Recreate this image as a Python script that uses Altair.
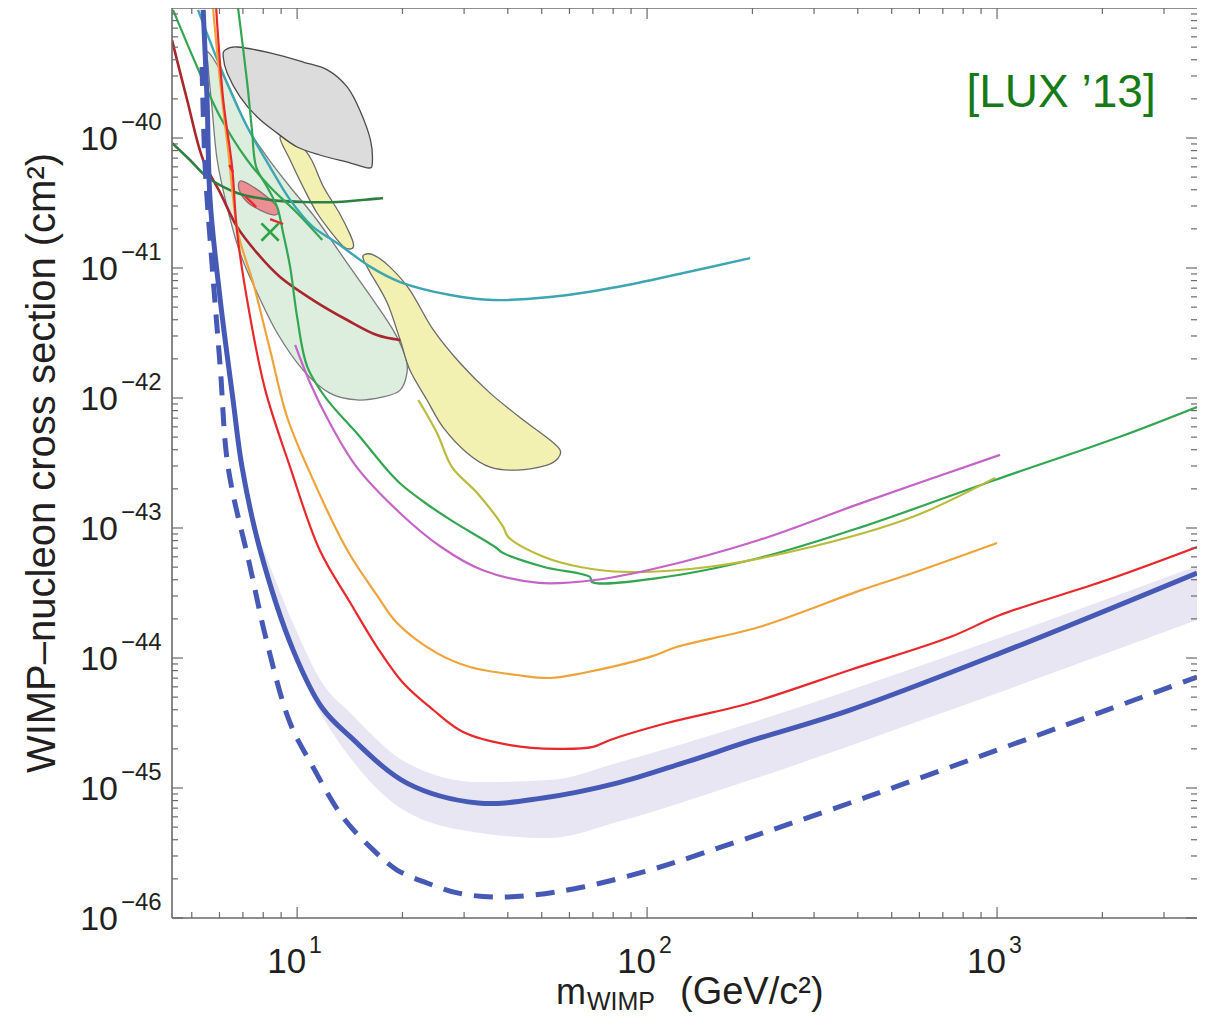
import altair as alt
import pandas as pd

# ---------------- data (mass in GeV/c^2, cross section in cm^2) ----------------
LUX_M = [5.39, 5.53, 5.64, 6.03, 6.56, 6.96, 7.84, 9.74, 11.8, 14.2, 20.6, 32.9, 50.4, 82.0, 127, 197, 380, 1020, 3727]
LUX_S = [9.66e-40, 1.96e-40, 3.34e-41, 5.67e-42, 9.66e-43, 2.94e-43, 6.77e-44, 1.15e-44, 4.12e-45, 2.47e-45,
         1.09e-45, 7.67e-46, 8.38e-46, 1.09e-45, 1.56e-45, 2.3e-45, 3.98e-45, 1.09e-44, 4.51e-44]

BAND_M = [7.94, 9.87, 11.8, 14.2, 20.6, 33.3, 52.8, 82.0, 197, 735, 3727]
BAND_HI = [7.4e-44, 1.70e-44, 6.42e-45, 3.78e-45, 1.56e-45, 1.11e-45, 1.15e-45, 1.56e-45, 3.16e-45, 1.05e-44, 5.1e-44]
BAND_LO = [5.67e-44, 9.66e-45, 3.58e-45, 1.70e-45, 6.53e-46, 4.51e-46, 4.12e-46, 5.47e-46, 1.15e-45, 3.98e-45, 1.96e-44]

SENS_M = [5.35, 5.46, 5.72, 6.03, 6.35, 7.34, 8.21, 9.55, 11.1, 13.5, 16.5, 19.3, 23.5, 28.7, 36.3, 47.2, 65.6,
          102, 154, 425, 1268, 3727]
SENS_S = [3.52e-40, 5.98e-41, 1.02e-41, 1.73e-42, 2.94e-43, 5.01e-44, 1.30e-44, 3.16e-45, 1.45e-45, 5.98e-46,
          3.34e-46, 2.34e-46, 1.86e-46, 1.56e-46, 1.45e-46, 1.5e-46, 1.73e-46, 2.34e-46, 3.34e-46, 8.53e-46,
          2.47e-45, 7.14e-45]

RED_M = [5.87, 6.15, 6.52, 6.74, 7.34, 8.11, 9.55, 11.6, 14.2, 16.9, 20.1, 24.5, 29.8, 40.6, 55.3, 70.1, 78.4,
         114, 197, 380, 735, 1020, 2061, 3727]
RED_S = [1e-39, 1.96e-40, 5.98e-41, 1.86e-41, 4.2e-42, 1.15e-42, 2.94e-43, 6.77e-44, 2.65e-44, 1.22e-44, 6.42e-45,
         3.98e-45, 2.7e-45, 2.14e-45, 2.0e-45, 2.07e-45, 2.34e-45, 3.16e-45, 4.51e-45, 8.09e-45, 1.45e-44,
         2.14e-44, 3.98e-44, 7.14e-44]

ORA_M = [5.75, 6.03, 6.35, 6.78, 7.49, 8.37, 9.36, 10.7, 13.9, 16.9, 19.3, 25.1, 31.2, 42.5, 52.8, 65.6, 102,
         122, 209, 411, 575, 1000]
ORA_S = [1e-39, 2.65e-40, 8.09e-41, 1.86e-41, 7.67e-42, 2.34e-42, 7.14e-43, 2.94e-43, 6.77e-44, 3.05e-44,
         1.86e-44, 1.09e-44, 8.53e-45, 7.4e-45, 7.02e-45, 7.67e-45, 1.02e-44, 1.22e-44, 1.73e-44, 3.34e-44,
         4.51e-44, 7.67e-44]

PUR_M = [9.87, 10.9, 12.4, 14.8, 19.7, 25.8, 33.8, 49.1, 71.0, 107, 209, 411, 1020]
PUR_S = [2.56e-42, 1.30e-42, 6.42e-43, 2.94e-43, 1.30e-43, 7.14e-44, 4.75e-44, 3.78e-44, 3.98e-44, 4.92e-44,
         8.09e-44, 1.56e-43, 3.65e-43]

OLV_M = [22.2, 25.1, 27.7, 32.7, 38.8, 40.1, 50.8, 64.4, 87.1, 149, 294, 575, 986]
OLV_S = [9.66e-43, 5.38e-43, 2.94e-43, 1.86e-43, 1.02e-43, 8.53e-44, 5.98e-44, 5.01e-44, 4.59e-44, 5.01e-44,
         7.14e-44, 1.22e-43, 2.43e-43]

GRN_M = [6.78, 7.20, 7.43, 7.64, 8.21, 8.77, 9.12, 9.55, 10.0, 10.7, 12.2, 14.8, 18.1, 19.7, 23.3, 27.5, 36.8,
         38.8, 50.8, 68.7, 69.6, 107, 209, 411, 986, 2233, 3727]
GRN_S = [1e-39, 2.65e-40, 1.15e-40, 5.98e-41, 4.2e-41, 2.94e-41, 1.86e-41, 1.02e-41, 4.2e-42, 1.73e-42, 9.66e-43,
         5.38e-43, 2.79e-43, 2.2e-43, 1.55e-43, 1.15e-43, 7.14e-44, 6.42e-44, 5.01e-44, 4.2e-44, 3.84e-44,
         4.12e-44, 5.88e-44, 1.02e-43, 2.34e-43, 5.01e-43, 8.53e-43]

GSH_M = [4.42, 5.18, 6.03, 7.20, 8.37, 10.0, 11.8]
GSH_S = [9.66e-40, 3.52e-40, 1.45e-40, 6.77e-41, 4.2e-41, 2.65e-41, 1.64e-41]

CYA_M = [5.21, 6.03, 7.20, 8.37, 9.55, 11.1, 13.0, 16.2, 19.7, 27.4, 36.3, 52.8, 82.0, 127, 197]
CYA_S = [9.66e-40, 3.52e-40, 1.22e-40, 5.98e-41, 3.34e-41, 2.07e-41, 1.56e-41, 1.02e-41, 7.8e-42, 6.2e-42,
         5.67e-42, 5.98e-42, 7.14e-42, 9.15e-42, 1.19e-41]

DGR_M = [4.39, 4.94, 5.53, 6.74, 8.37, 10.4, 13.0, 17.6]
DGR_S = [9.15e-41, 6.77e-41, 5.01e-41, 3.78e-41, 3.34e-41, 3.22e-41, 3.22e-41, 3.45e-41]

DRD_M = [4.39, 4.85, 5.39, 6.03, 6.74, 7.69, 8.94, 11.1, 13.9, 16.9, 19.7]
DRD_S = [5.67e-40, 1.96e-40, 6.77e-41, 3.78e-41, 2.07e-41, 1.30e-41, 8.53e-42, 5.67e-42, 3.98e-42, 3.05e-42, 2.79e-42]

# closed regions
GREY_M = [6.23, 6.74, 8.37, 10.4, 12.2, 13.9, 15.1, 16.2, 16.4, 16.0, 14.2, 11.6, 10.0, 8.77, 7.69, 6.87, 6.31, 6.15]
GREY_S = [4.75e-40, 5.01e-40, 4.51e-40, 3.84e-40, 3.34e-40, 2.47e-40, 1.64e-40, 9.66e-41, 6.42e-41, 5.88e-41,
          6.42e-41, 7.4e-41, 8.53e-41, 1.09e-40, 1.45e-40, 2.07e-40, 3.16e-40, 4.2e-40]

YSM_M = [8.94, 10.2, 11.0, 11.9, 13.2, 14.2, 14.5, 14.1, 13.5, 12.7, 11.4, 10.4, 9.55]
YSM_S = [1.02e-40, 8.83e-41, 6.77e-41, 4.2e-41, 2.65e-41, 1.79e-41, 1.48e-41, 1.40e-41, 1.48e-41, 1.79e-41,
         2.65e-41, 4.2e-41, 6.77e-41]

YBG_M = [15.5, 16.5, 18.4, 21.0, 24.5, 29.2, 35.6, 44.3, 52.8, 56.4, 55.7, 51.8, 42.5, 35.6, 30.6, 26.1, 23.5,
         21.0, 19.7, 18.1, 16.2, 15.5]
YBG_S = [1.26e-41, 1.26e-41, 1.02e-41, 6.77e-42, 3.34e-42, 1.86e-42, 1.09e-42, 6.77e-43, 4.75e-43, 3.98e-43,
         3.45e-43, 3.05e-43, 2.79e-43, 2.94e-43, 3.78e-43, 5.98e-43, 9.66e-43, 1.64e-42, 2.79e-42, 5.38e-42,
         9.15e-42, 1.15e-41]

LGR_M = [5.57, 6.31, 7.20, 8.21, 9.55, 11.4, 13.9, 16.5, 18.8, 20.4, 20.6, 19.7, 17.6, 14.8, 12.4, 10.4, 8.77,
         7.69, 6.87, 6.31, 5.91, 5.72, 5.57]
LGR_S = [4.59e-40, 2.65e-40, 1.22e-40, 7.14e-41, 4.2e-41, 2.34e-41, 1.09e-41, 5.67e-42, 3.34e-42, 2.07e-42,
         1.56e-42, 1.15e-42, 1.02e-42, 9.66e-43, 1.09e-42, 1.64e-42, 3.16e-42, 6.42e-42, 1.30e-41, 2.94e-41,
         6.77e-41, 1.64e-40, 3.52e-40]

PNK_M = [6.87, 7.34, 8.21, 8.77, 8.83, 8.54, 7.84, 7.20, 6.83]
PNK_S = [4.67e-41, 4.35e-41, 3.52e-41, 2.94e-41, 2.65e-41, 2.56e-41, 2.79e-41, 3.22e-41, 3.98e-41]

RDASH_SEG = ["a", "a", "b", "b", "c", "c"]
RDASH_M = [6.40, 6.56, 7.10, 7.64, 8.37, 9.12]
RDASH_S = [6.2e-41, 5.47e-41, 3.58e-41, 2.94e-41, 2.38e-41, 2.18e-41]

XMARK_M = [8.37]
XMARK_S = [1.89e-41]

# axis ticks and labels
X_MAJOR = [10, 100, 1000]
X_EXP = ["1", "2", "3"]
X_MINOR = [5, 6, 7, 8, 9, 20, 30, 40, 50, 60, 70, 80, 90, 200, 300, 400, 500, 600, 700, 800, 900, 2000, 3000]
Y_MAJOR = [1e-46, 1e-45, 1e-44, 1e-43, 1e-42, 1e-41, 1e-40]
Y_EXP = ["\u221246", "\u221245", "\u221244", "\u221243", "\u221242", "\u221241", "\u221240"]
Y_MINOR = [k * 10.0 ** e for e in range(-46, -39) for k in range(2, 10)]

LABEL_M = [1524]
LABEL_S = [1.73e-40]
LABEL_T = ["[LUX \u201913]"]

# ---------------- chart ----------------
W, H = 1025, 910
FONT = "Liberation Sans"
TXT = "#231f20"
FR = "#6a6a6a"
XS = alt.Scale(type="log", domain=[4.39, 3727], nice=False)
YS = alt.Scale(type="log", domain=[1e-46, 1e-39], nice=False)
SMOOTH = "catmull-rom"


def enc_xy():
    return dict(x=alt.X("m:Q", scale=XS, axis=None), y=alt.Y("s:Q", scale=YS, axis=None))


def curve(ms, ss, color, width, dash=None):
    df = pd.DataFrame({"m": ms, "s": ss, "i": list(range(len(ms)))})
    kw = dict(color=color, strokeWidth=width, clip=True, interpolate=SMOOTH)
    if dash is not None:
        kw["strokeDash"] = dash
    return alt.Chart(df).mark_line(**kw).encode(order="i:Q", **enc_xy())


def region(ms, ss, fill, stroke):
    df = pd.DataFrame({"m": ms, "s": ss, "i": list(range(len(ms)))})
    return alt.Chart(df).mark_line(
        interpolate="cardinal-closed", stroke=stroke, strokeWidth=1.3, clip=True
    ).encode(order="i:Q", fill=alt.value(fill), **enc_xy())


band = alt.Chart(pd.DataFrame({"m": BAND_M, "lo": BAND_LO, "hi": BAND_HI})).mark_area(
    color="#e8e6f3", interpolate="monotone", clip=True
).encode(
    x=alt.X("m:Q", scale=XS, axis=None),
    y=alt.Y("lo:Q", scale=YS, axis=None),
    y2=alt.Y2("hi:Q"),
)

layers = [band]
layers.append(region(LGR_M, LGR_S, "#ddeedf", "#7a7a7a"))
layers.append(region(YSM_M, YSM_S, "#f3f1b2", "#6a6a6a"))
layers.append(region(GREY_M, GREY_S, "#dcdcdc", "#4a4a4a"))
layers.append(region(YBG_M, YBG_S, "#f3f1b2", "#6a6a6a"))
layers.append(region(PNK_M, PNK_S, "#ec8f92", "#8a7070"))

layers.append(curve(DRD_M, DRD_S, "#a8262c", 2.6))
layers.append(curve(DGR_M, DGR_S, "#2d8040", 2.6))
layers.append(curve(CYA_M, CYA_S, "#3ea6b3", 2.4))
layers.append(curve(GSH_M, GSH_S, "#33a651", 2.2))
layers.append(curve(GRN_M, GRN_S, "#33a651", 2.2))
layers.append(curve(OLV_M, OLV_S, "#b9bb3c", 2.2))
layers.append(curve(PUR_M, PUR_S, "#c464c6", 2.2))
layers.append(curve(ORA_M, ORA_S, "#efa33b", 2.2))
layers.append(curve(RED_M, RED_S, "#e8282b", 2.2))

rd = pd.DataFrame({"m": RDASH_M, "s": RDASH_S, "seg": RDASH_SEG})
layers.append(alt.Chart(rd).mark_line(color="#e8282b", strokeWidth=2.4, clip=True).encode(
    detail="seg:N", **enc_xy()))

xm = pd.DataFrame({"m": XMARK_M, "s": XMARK_S})
layers.append(alt.Chart(xm).mark_point(
    shape="M-1,-1L1,1M-1,1L1,-1", size=300, filled=False, color="#2ea34a", strokeWidth=2.6, opacity=1
).encode(**enc_xy()))

layers.append(curve(SENS_M, SENS_S, "#4559b5", 5, dash=[19, 12]))
layers.append(curve(LUX_M, LUX_S, "#4559b5", 5))

# frame
one = pd.DataFrame({"z": [0]})
layers.append(alt.Chart(one).mark_rule(color=FR, strokeWidth=1.6).encode(
    x=alt.value(0), y=alt.value(0), y2=alt.value(H)))
layers.append(alt.Chart(one).mark_rule(color=FR, strokeWidth=1.6).encode(
    x=alt.value(0), x2=alt.value(W), y=alt.value(0)))
layers.append(alt.Chart(one).mark_rule(color=FR, strokeWidth=1.6).encode(
    x=alt.value(0), x2=alt.value(W), y=alt.value(H)))


# ticks
def xticks(vals, length):
    df = pd.DataFrame({"v": vals})
    xe = alt.X("v:Q", scale=XS, axis=None)
    b = alt.Chart(df).mark_rule(color=FR, strokeWidth=1.2).encode(x=xe, y=alt.value(H), y2=alt.value(H - length))
    t = alt.Chart(df).mark_rule(color=FR, strokeWidth=1.2).encode(x=xe, y=alt.value(0), y2=alt.value(length))
    return [b, t]


def yticks(vals, length):
    df = pd.DataFrame({"v": vals})
    ye = alt.Y("v:Q", scale=YS, axis=None)
    l = alt.Chart(df).mark_rule(color=FR, strokeWidth=1.2).encode(y=ye, x=alt.value(0), x2=alt.value(length))
    r = alt.Chart(df).mark_rule(color=FR, strokeWidth=1.2).encode(y=ye, x=alt.value(W), x2=alt.value(W - length))
    return [l, r]


layers += xticks(X_MAJOR, 11) + xticks(X_MINOR, 6) + yticks(Y_MAJOR, 11) + yticks(Y_MINOR, 6)

# tick labels
ylab = pd.DataFrame({"v": Y_MAJOR, "e": Y_EXP, "b": ["10"] * len(Y_MAJOR)})
layers.append(alt.Chart(ylab).mark_text(
    align="right", baseline="middle", dx=-54, dy=2, fontSize=34, font=FONT, color=TXT
).encode(y=alt.Y("v:Q", scale=YS, axis=None), x=alt.value(0), text="b:N"))
layers.append(alt.Chart(ylab).mark_text(
    align="left", baseline="middle", dx=-51, dy=-15, fontSize=24, font=FONT, color=TXT
).encode(y=alt.Y("v:Q", scale=YS, axis=None), x=alt.value(0), text="e:N"))

xlab = pd.DataFrame({"v": X_MAJOR, "e": X_EXP, "b": ["10"] * len(X_MAJOR)})
layers.append(alt.Chart(xlab).mark_text(
    align="right", baseline="middle", dx=9, dy=44, fontSize=35, font=FONT, color=TXT
).encode(x=alt.X("v:Q", scale=XS, axis=None), y=alt.value(H), text="b:N"))
layers.append(alt.Chart(xlab).mark_text(
    align="left", baseline="middle", dx=12, dy=28, fontSize=23, font=FONT, color=TXT
).encode(x=alt.X("v:Q", scale=XS, axis=None), y=alt.value(H), text="e:N"))

# axis titles
layers.append(alt.Chart(pd.DataFrame({"t": ["WIMP\u2013nucleon cross section (cm\u00b2)"]})).mark_text(
    angle=270, align="center", baseline="middle", fontSize=40, font=FONT, color=TXT
).encode(x=alt.value(-129), y=alt.value(455), text="t:N"))
layers.append(alt.Chart(pd.DataFrame({"t": ["m"]})).mark_text(
    align="left", baseline="alphabetic", fontSize=36, font=FONT, color=TXT
).encode(x=alt.value(384), y=alt.value(996), text="t:N"))
layers.append(alt.Chart(pd.DataFrame({"t": ["WIMP"]})).mark_text(
    align="left", baseline="alphabetic", fontSize=25, font=FONT, color=TXT
).encode(x=alt.value(415), y=alt.value(1002), text="t:N"))
layers.append(alt.Chart(pd.DataFrame({"t": ["(GeV/c\u00b2)"]})).mark_text(
    align="left", baseline="alphabetic", fontSize=38, font=FONT, color=TXT
).encode(x=alt.value(508), y=alt.value(996), text="t:N"))

# experiment label
lab = pd.DataFrame({"m": LABEL_M, "s": LABEL_S, "t": LABEL_T})
layers.append(alt.Chart(lab).mark_text(
    align="center", baseline="alphabetic", fontSize=46, font=FONT, color="#167a16"
).encode(text="t:N", **enc_xy()))

chart = alt.layer(*layers).properties(
    width=W,
    height=H,
    autosize=alt.AutoSizeParams(type="none"),
    padding={"left": 164, "top": 0, "right": 0, "bottom": 96},
).configure_view(stroke=None)

chart.save("out.html", embed_options={"renderer": "svg", "actions": False})
